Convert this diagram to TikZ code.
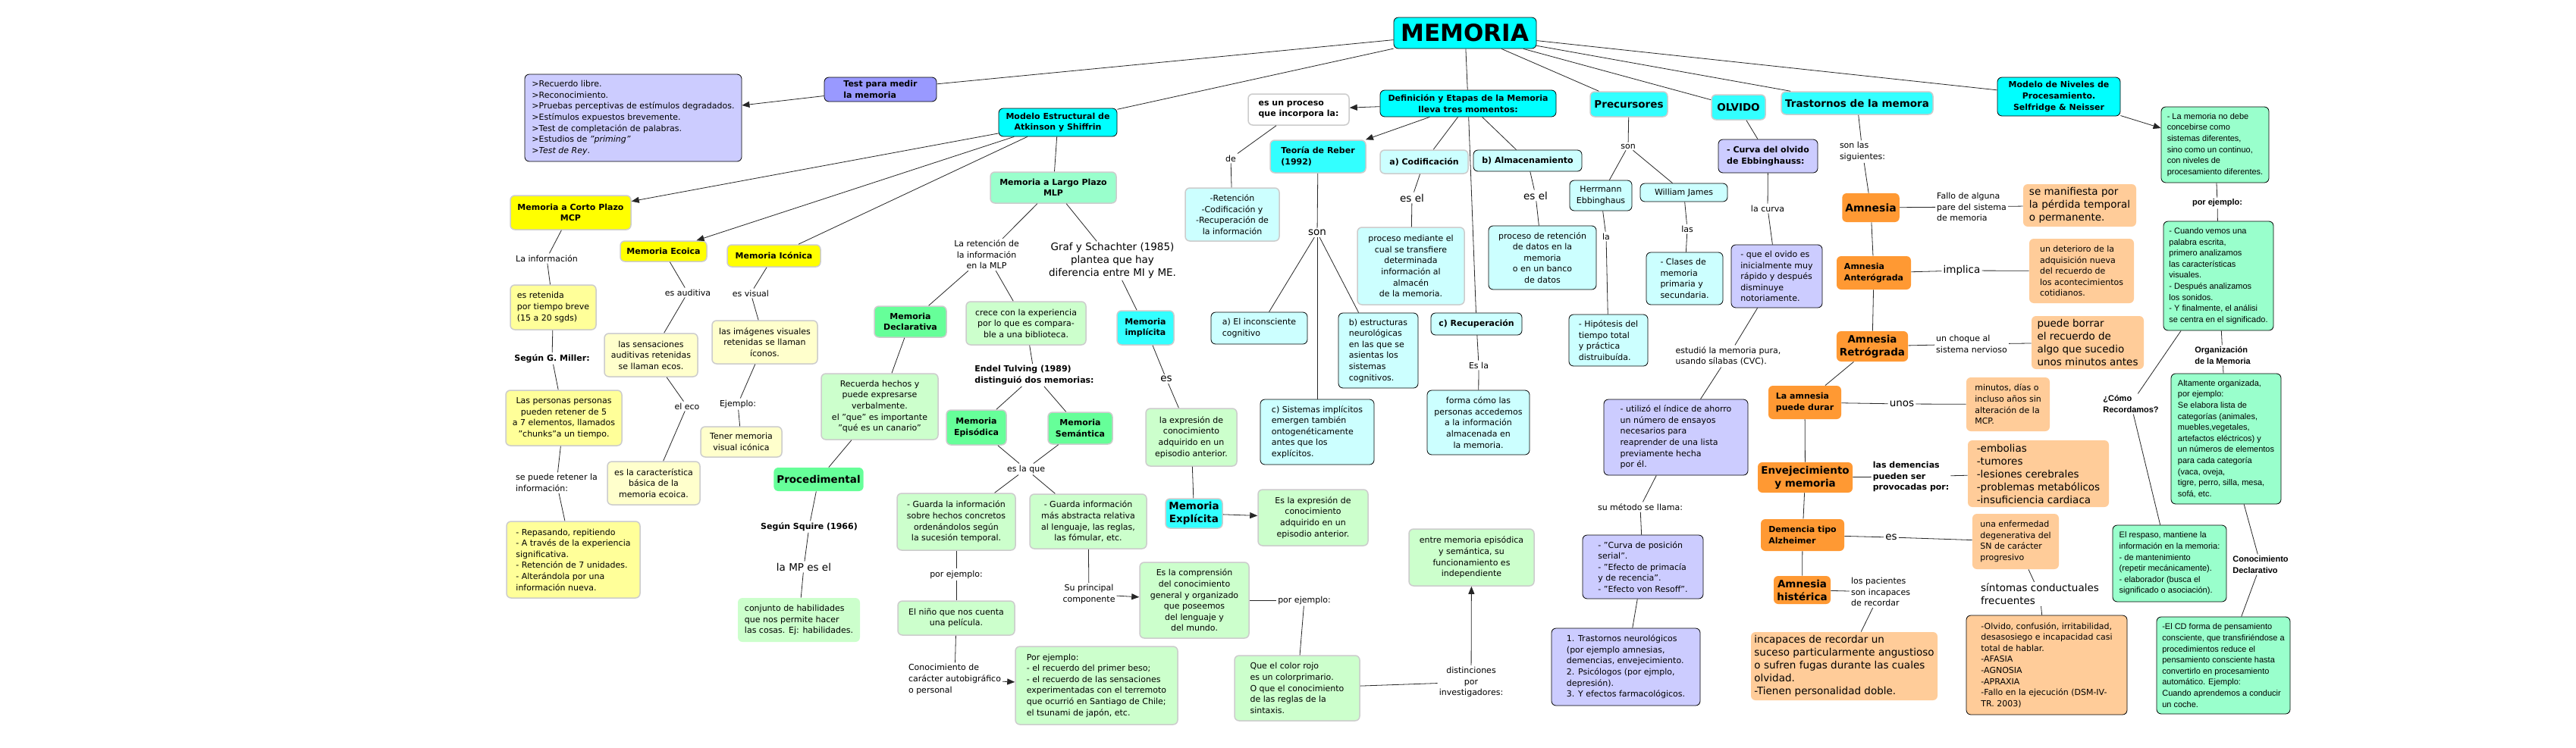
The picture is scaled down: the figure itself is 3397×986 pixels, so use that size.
\documentclass[tikz,border=0pt]{standalone}
\usepackage{fontspec}
\setmainfont{DejaVu Sans}
\newfontfamily\tahoma{Liberation Sans}
\usepackage{tikz}
\usetikzlibrary{arrows.meta}

\definecolor{cyanhead}{HTML}{00FFFF}
\definecolor{cyansoft}{HTML}{33FFFF}
\definecolor{cyanpale}{HTML}{CCFFFF}
\definecolor{lavhead}{HTML}{9999FF}
\definecolor{lavpale}{HTML}{CCCCFF}
\definecolor{yelhead}{HTML}{FFFF00}
\definecolor{yelmid}{HTML}{FFFF99}
\definecolor{yelpale}{HTML}{FFFFCC}
\definecolor{grnhead}{HTML}{66FF99}
\definecolor{grnmint}{HTML}{99FFCC}
\definecolor{grnpale}{HTML}{CCFFCC}
\definecolor{orhead}{HTML}{FF9933}
\definecolor{orpale}{HTML}{FFCC99}

\begin{document}
\begin{tikzpicture}[x=1pt, y=-1pt,
  every node/.style={align=center, font=\fontsize{11}{14.6}\selectfont},
  box/.style={draw=black, rounded corners=6pt, inner sep=4pt, line width=0.8pt},
  soft/.style={box, draw=black!20, line width=1.5pt},
  flat/.style={box, draw=none},
  lbl/.style={inner sep=2pt},
  bfnt/.style={font=\bfseries\fontsize{11}{14.6}\selectfont},
  bigtxt/.style={font=\fontsize{13.5}{17}\selectfont},
  bigbf/.style={font=\bfseries\fontsize{13.5}{17}\selectfont},
  tah/.style={font=\tahoma\fontsize{11}{14.6}\selectfont},
  tahbf/.style={font=\tahoma\bfseries\fontsize{11}{14.6}\selectfont},
  link/.style={draw=black!85, line width=0.8pt},
  arr/.style={link, -{Triangle[length=10pt,width=8pt]}}]

\fill[white] (0,0) rectangle (3397,986);
\useasboundingbox (0,0) rectangle (3397,986);

% root and main branches
\node[box, fill=cyanhead, font=\bfseries\fontsize{31}{36}\selectfont, minimum width=188pt, minimum height=41pt] (memoria) at (1932,43.5) {MEMORIA};
\node[box, fill=lavhead, bfnt, align=left, minimum width=148pt, minimum height=32pt] (test) at (1161,118) {Test para medir\\la memoria};
\node[box, fill=lavpale, align=left, minimum width=286pt, minimum height=115pt] (lista) at (835,155.5) {>Recuerdo libre.\\>Reconocimiento.\\>Pruebas perceptivas de estímulos degradados.\\>Estímulos expuestos brevemente.\\>Test de completación de palabras.\\>Estudios de \textit{"priming"}\\\textit{>Test de Rey}.};
\node[box, fill=cyanhead, bfnt, minimum width=156pt, minimum height=37pt] (modelo) at (1395,161.5) {Modelo Estructural de\\Atkinson y Shiffrin};
\node[box, fill=cyanhead, bfnt, minimum width=232pt, minimum height=35pt] (defin) at (1936,136.5) {Definición y Etapas de la Memoria\\lleva tres momentos:};
\node[soft, fill=cyansoft, bigbf, minimum width=102pt, minimum height=33pt] (precurs) at (2148,137.5) {Precursores};
\node[soft, fill=cyansoft, bigbf, minimum width=71pt, minimum height=33pt] (olvido) at (2292.5,141.5) {OLVIDO};
\node[soft, fill=cyansoft, bigbf, minimum width=200pt, minimum height=30pt] (trast) at (2449,136) {Trastornos de la memora};
\node[box, fill=cyanhead, bfnt, minimum width=162pt, minimum height=51pt] (niveles) at (2715,127.5) {Modelo de Niveles de\\Procesamiento.\\Selfridge \& Neisser};

% short term memory
\node[soft, fill=yelhead, bfnt, minimum width=159pt, minimum height=45pt] (mcp) at (752.5,280.5) {Memoria a Corto Plazo\\MCP};
\node[lbl] (lblinfo) at (721,341) {La información};
\node[soft, fill=yelmid, align=left, minimum width=113pt, minimum height=59pt] (retenida) at (729.5,405.5) {es retenida\\por tiempo breve\\(15 a 20 sgds)};
\node[lbl, bfnt] (lblmiller) at (728,473) {Según G. Miller:};
\node[soft, fill=yelmid, minimum width=153pt, minimum height=73pt] (personas) at (743.5,551.5) {Las personas personas\\pueden retener de 5\\a 7 elementos, llamados\\"chunks"a un tiempo.};
\node[lbl, align=left] (lblretener) at (734,637) {se puede retener la\\información:};
\node[soft, fill=yelmid, align=left, minimum width=176pt, minimum height=101pt] (repasando) at (756,738.5) {- Repasando, repitiendo\\- A través de la experiencia\\significativa.\\- Retención de 7 unidades.\\- Alterándola por una\\información nueva.};

% sensory memory
\node[soft, fill=yelhead, bfnt, minimum width=114pt, minimum height=27pt] (ecoica) at (875,331.5) {Memoria Ecoica};
\node[soft, fill=yelhead, bfnt, minimum width=123pt, minimum height=29pt] (iconica) at (1020.5,337.5) {Memoria Icónica};
\node[lbl] (lblaud) at (907,386) {es auditiva};
\node[soft, fill=yelpale, minimum width=123pt, minimum height=57pt] (ecos) at (858.5,468.5) {las sensaciones\\auditivas retenidas\\se llaman ecos.};
\node[lbl] (lbleco) at (906,536) {el eco};
\node[soft, fill=yelpale, minimum width=122pt, minimum height=57pt] (basica) at (862,637.5) {es la característica\\básica de la\\memoria ecoica.};
\node[lbl] (lblvis) at (990,387) {es visual};
\node[soft, fill=yelpale, minimum width=139pt, minimum height=57pt] (iconos) at (1008.5,451.5) {las imágenes visuales\\retenidas se llaman\\íconos.};
\node[lbl] (lblej) at (973,533) {Ejemplo:};
\node[soft, fill=yelpale, minimum width=107pt, minimum height=40pt] (tener) at (977.5,583) {Tener memoria\\visual icónica};

% long term memory
\node[soft, fill=grnmint, bfnt, minimum width=166pt, minimum height=41pt] (mlp) at (1389,247.5) {Memoria a Largo Plazo\\MLP};
\node[lbl] (lblret) at (1301,336) {La retención de\\la información\\en la MLP};
\node[lbl, bigtxt] (lblgraf) at (1467,344) {Graf y Schachter (1985)\\plantea que hay\\diferencia entre MI y ME.};
\node[soft, fill=grnhead, bfnt, minimum width=95pt, minimum height=41pt] (decl) at (1200.5,424.5) {Memoria\\Declarativa};
\node[soft, fill=grnpale, minimum width=154pt, minimum height=87pt] (recuerda) at (1160,536.5) {Recuerda hechos y\\puede expresarse\\verbalmente.\\el "que" es importante\\"qué es un canario"};
\node[flat, fill=grnhead, bigbf, minimum width=115pt, minimum height=31pt] (proced) at (1079.5,632.5) {Procedimental};
\node[lbl, bfnt] (lblsquire) at (1067,695) {Según Squire (1966)};
\node[lbl, bigtxt] (lblmp) at (1060,748) {la MP es el};
\node[flat, fill=grnpale, align=left, minimum width=161pt, minimum height=58pt] (conjunto) at (1053.5,818) {conjunto de habilidades\\que nos permite hacer\\las cosas. Ej: habilidades.};
\node[soft, fill=grnpale, minimum width=158pt, minimum height=57pt] (crece) at (1353,426.5) {crece con la experiencia\\por lo que es compara-\\ble a una biblioteca.};
\node[lbl, bfnt, align=left] (lbltulving) at (1364,495) {Endel Tulving (1989)\\distinguió dos memorias:};
\node[soft, fill=grnhead, bfnt, minimum width=79pt, minimum height=46pt] (episodica) at (1287.5,564) {Memoria\\Episódica};
\node[soft, fill=grnhead, bfnt, minimum width=85pt, minimum height=42pt] (semantica) at (1424.5,565) {Memoria\\Semántica};
\node[lbl] (lblesla) at (1353,619) {es la que};
\node[soft, fill=grnpale, minimum width=156pt, minimum height=75pt] (guarda1) at (1261,688.5) {- Guarda la información\\sobre hechos concretos\\ordenándolos según\\la sucesión temporal.};
\node[soft, fill=grnpale, minimum width=154pt, minimum height=72pt] (guarda2) at (1435,688) {- Guarda información\\más abstracta relativa\\al lenguaje, las reglas,\\las fómular, etc.};
\node[lbl] (lblpej1) at (1261,758) {por ejemplo:};
\node[soft, fill=grnpale, minimum width=154pt, minimum height=45pt] (nino) at (1261,815.5) {El niño que nos cuenta\\una película.};
\node[lbl, align=left] (lblconoc) at (1259,896.5) {Conocimiento de\\carácter autobigráfico\\o personal};
\node[soft, fill=grnpale, align=left, minimum width=214pt, minimum height=103pt] (beso) at (1446,904.5) {Por ejemplo:\\- el recuerdo del primer beso;\\- el recuerdo de las sensaciones\\experimentadas con el terremoto\\que ocurrió en Santiago de Chile;\\el tsunami de japón, etc.};
\node[lbl] (lblsu) at (1436,784) {Su principal\\componente};
\node[soft, fill=grnpale, minimum width=144pt, minimum height=100pt] (compren) at (1575,792) {Es la comprensión\\del conocimiento\\general y organizado\\que poseemos\\del lenguaje y\\del mundo.};
\node[lbl] (lblpej2) at (1720,792) {por ejemplo:};
\node[soft, fill=grnpale, align=left, minimum width=165pt, minimum height=86pt] (rojo) at (1710.5,908) {Que el color rojo\\es un colorprimario.\\O que el conocimiento\\de las reglas de la\\sintaxis.};
\node[soft, fill=cyansoft, bfnt, minimum width=75pt, minimum height=45pt] (implicita) at (1510.5,432.5) {Memoria\\implícita};
\node[lbl, bigtxt] (lbles1) at (1538,500) {es};
\node[soft, fill=grnpale, minimum width=120pt, minimum height=76pt] (expres1) at (1571,577) {la expresión de\\conocimiento\\adquirido en un\\episodio anterior.};
\node[soft, fill=cyansoft, bigbf, minimum width=75pt, minimum height=39pt] (explicita) at (1574.5,677.5) {Memoria\\Explícita};
\node[soft, fill=grnpale, minimum width=145pt, minimum height=74pt] (expres2) at (1731.5,683) {Es la expresión de\\conocimiento\\adquirido en un\\episodio anterior.};
\node[soft, fill=grnpale, minimum width=165pt, minimum height=75pt] (entre) at (1940.5,735.5) {entre memoria episódica\\y semántica, su\\funcionamiento es\\independiente};
\node[lbl] (lbldist) at (1940,900) {distinciones\\por\\investigadores:};

% definition and stages
\node[soft, fill=white, bfnt, align=left, minimum width=133pt, minimum height=41pt] (proceso) at (1712.5,144.5) {es un proceso\\que incorpora la:};
\node[lbl] (lblde) at (1623,209) {de};
\node[soft, fill=cyanpale, minimum width=124pt, minimum height=70pt] (retencion) at (1625,283) {-Retención\\-Codificación y\\-Recuperación de\\la información};
\node[soft, fill=cyansoft, bfnt, align=left, minimum width=126pt, minimum height=43pt] (reber) at (1738,206.5) {Teoría de Reber\\(1992)};
\node[lbl, bigtxt] (lblson1) at (1737,307) {son};
\node[box, fill=cyanpale, align=left, minimum width=127pt, minimum height=42pt] (inconsc) at (1660.5,433) {a) El inconsciente\\cognitivo};
\node[box, fill=cyanpale, align=left, minimum width=105pt, minimum height=99pt] (estruct) at (1817.5,462.5) {b) estructuras\\neurológicas\\en las que se\\asientas los\\sistemas\\cognitivos.};
\node[box, fill=cyanpale, align=left, minimum width=150pt, minimum height=86pt] (sistemas) at (1737,570) {c) Sistemas implícitos\\emergen también\\ontogenéticamente\\antes que los\\explícitos.};
\node[soft, fill=cyanpale, bfnt, minimum width=116pt, minimum height=31pt] (codif) at (1878,213.5) {a) Codificación};
\node[lbl, bigtxt] (lblesel1) at (1862,261) {es el};
\node[soft, fill=cyanpale, minimum width=141pt, minimum height=102pt] (mediante) at (1860.5,351) {proceso mediante el\\cual se transfiere\\determinada\\información al\\almacén\\de la memoria.};
\node[box, fill=cyanpale, bfnt, minimum width=143pt, minimum height=28pt] (almac) at (2014.5,212) {b) Almacenamiento};
\node[lbl, bigtxt] (lblesel2) at (2025,258) {es el};
\node[box, fill=cyanpale, minimum width=142pt, minimum height=84pt] (retdatos) at (2034,340) {proceso de retención\\de datos en la\\memoria\\o en un banco\\de datos};
\node[box, fill=cyanpale, bfnt, minimum width=120pt, minimum height=29pt] (recup) at (1947,427.5) {c) Recuperación};
\node[lbl] (lblesla2) at (1950,482) {Es la};
\node[box, fill=cyanpale, minimum width=135pt, minimum height=85pt] (forma) at (1949.5,557.5) {forma cómo las\\personas accedemos\\a la información\\almacenada en\\la memoria.};

% precursors and forgetting
\node[lbl] (lblson2) at (2147,193) {son};
\node[box, fill=cyanpale, minimum width=82pt, minimum height=40pt] (herr) at (2111,258) {Herrmann\\Ebbinghaus};
\node[box, fill=cyanpale, minimum width=115pt, minimum height=24pt] (william) at (2220.5,254) {William James};
\node[lbl] (lblla) at (2118,312) {la};
\node[box, fill=cyanpale, align=left, minimum width=104pt, minimum height=68pt] (hipot) at (2121,449) {- Hipótesis del\\tiempo total\\y práctica\\distruibuída.};
\node[lbl] (lbllas) at (2225,302) {las};
\node[box, fill=cyanpale, align=left, minimum width=101pt, minimum height=69pt] (clases) at (2221.5,367.5) {- Clases de\\memoria\\primaria y\\secundaria.};
\node[box, fill=lavpale, bfnt, align=left, minimum width=131pt, minimum height=44pt] (curvaolv) at (2331.5,206) {- Curva del olvido\\de Ebbinghauss:};
\node[lbl] (lblcurva) at (2331,275) {la curva};
\node[box, fill=lavpale, align=left, minimum width=120pt, minimum height=83pt] (ovido) at (2343,364.5) {- que el ovido es\\inicialmente muy\\rápido y después\\disminuye\\notoriamente.};
\node[lbl, align=left] (lblestudio) at (2279,470) {estudió la memoria pura,\\usando sílabas (CVC).};
\node[box, fill=lavpale, align=left, minimum width=190pt, minimum height=100pt] (ahorro) at (2210,577) {- utilizó el índice de ahorro\\un número de ensayos\\necesarios para\\reaprender de una lista\\previamente hecha\\por él.};
\node[lbl] (lblmetodo) at (2163,669) {su método se llama:};
\node[box, fill=lavpale, align=left, minimum width=159pt, minimum height=84pt] (posicion) at (2166.5,748) {- "Curva de posición\\serial".\\- "Efecto de primacía\\y de recencia".\\- "Efecto von Resoff".};
\node[box, fill=lavpale, align=left, minimum width=196pt, minimum height=102pt] (trastneur) at (2144,880) {1. Trastornos neurológicos\\(por ejemplo amnesias,\\demencias, envejecimiento.\\2. Psicólogos (por ejmplo,\\depresión).\\3. Y efectos farmacológicos.};

% memory disorders
\node[lbl, align=left] (lblsonlas) at (2456,200) {son las\\siguientes:};
\node[flat, fill=orhead, font=\bfseries\fontsize{14}{17}\selectfont, minimum width=74pt, minimum height=38pt] (amnesia) at (2467,274) {Amnesia};
\node[lbl, align=left] (lblfallo) at (2600,273) {Fallo de alguna\\pare del sistema\\de memoria};
\node[flat, fill=orpale, bigtxt, align=left, minimum width=149pt, minimum height=56pt] (manif) at (2742.5,271) {se manifiesta por\\la pérdida temporal\\o permanente.};
\node[flat, fill=orhead, bfnt, align=left, minimum width=98pt, minimum height=44pt] (antero) at (2471,360) {Amnesia\\Anterógrada};
\node[lbl, bigtxt] (lblimplica) at (2587,357) {implica};
\node[flat, fill=orpale, align=left, minimum width=138pt, minimum height=85pt] (deterioro) at (2745,357.5) {un deterioro de la\\adquisición nueva\\del recuerdo de\\los acontecimientos\\cotidianos.};
\node[flat, fill=orhead, bigbf, minimum width=94pt, minimum height=40pt] (retro) at (2469,457) {Amnesia\\Retrógrada};
\node[lbl, align=left] (lblchoque) at (2600,454) {un choque al\\sistema nervioso};
\node[flat, fill=orpale, bigtxt, align=left, minimum width=148pt, minimum height=70pt] (borrar) at (2753,452) {puede borrar\\el recuerdo de\\algo que sucedio\\unos minutos antes};
\node[flat, fill=orhead, bfnt, align=left, minimum width=96pt, minimum height=44pt] (durar) at (2380,531) {La amnesia\\puede durar};
\node[lbl, bigtxt] (lblunos) at (2508,533) {unos};
\node[flat, fill=orpale, align=left, minimum width=110pt, minimum height=71pt] (minutos) at (2648,533.5) {minutos, días o\\incluso años sin\\alteración de la\\MCP.};
\node[flat, fill=orhead, bigbf, minimum width=125pt, minimum height=40pt] (envej) at (2380.5,630) {Envejecimiento\\y memoria};
\node[lbl, bfnt, align=left] (lbldemen) at (2520,629) {las demencias\\pueden ser\\provocadas por:};
\node[flat, fill=orpale, bigtxt, align=left, minimum width=186pt, minimum height=88pt] (embolias) at (2688,625) {-embolias\\-tumores\\-lesiones cerebrales\\-problemas metabólicos\\-insuficiencia cardiaca};
\node[flat, fill=orhead, bfnt, align=left, minimum width=110pt, minimum height=42pt] (alzh) at (2377,706) {Demencia tipo\\Alzheimer};
\node[lbl, bigtxt] (lbles2) at (2494,709) {es};
\node[flat, fill=orpale, align=left, minimum width=114pt, minimum height=73pt] (enferm) at (2658,714.5) {una enfermedad\\degenerativa del\\SN de carácter\\progresivo};
\node[lbl, bigtxt, align=left] (lblsint) at (2690,784) {síntomas conductuales\\frecuentes};
\node[box, fill=orpale, align=left, minimum width=212pt, minimum height=131pt] (confus) at (2699,877.5) {-Olvido, confusión, irritabilidad,\\desasosiego e incapacidad casi\\total de hablar.\\-AFASIA\\-AGNOSIA\\-APRAXIA\\-Fallo en la ejecución (DSM-IV-\\TR. 2003)};
\node[flat, fill=orhead, bigbf, minimum width=75pt, minimum height=37pt] (hister) at (2376.5,778.5) {Amnesia\\histérica};
\node[lbl, align=left] (lblpac) at (2480,781) {los pacientes\\son incapaces\\de recordar};
\node[flat, fill=orpale, bigtxt, align=left, minimum width=246pt, minimum height=90pt] (incap) at (2432,879) {incapaces de recordar un\\suceso particularmente angustioso\\o sufren fugas durante las cuales\\olvidad.\\-Tienen personalidad doble.};

% levels of processing
\node[box, fill=grnmint, tah, align=left, minimum width=142pt, minimum height=100pt] (nodebe) at (2921,191) {- La memoria no debe\\concebirse como\\sistemas diferentes,\\sino como un continuo,\\con niveles de\\procesamiento diferentes.};
\node[lbl, tahbf] (lblpej3) at (2924,268) {por ejemplo:};
\node[box, fill=grnmint, tah, align=left, minimum width=145pt, minimum height=144pt] (cuando) at (2925.5,364) {- Cuando vemos una\\palabra escrita,\\primero analizamos\\las características\\visuales.\\- Después analizamos\\los sonidos.\\- Y finalmente, el análisi\\se centra en el significado.};
\node[lbl, tahbf, align=left] (lblorg) at (2931,469) {Organización\\de la Memoria};
\node[box, fill=grnmint, tah, align=left, minimum width=145pt, minimum height=172pt] (altamente) at (2935.5,579) {Altamente organizada,\\por ejemplo:\\Se elabora lista de\\categorías (animales,\\muebles,vegetales,\\artefactos eléctricos) y\\un números de elementos\\para cada categoría\\(vaca, oveja,\\tigre, perro, silla, mesa,\\sofá, etc.};
\node[lbl, tahbf, align=left] (lblcomo) at (2810,533) {¿Cómo\\Recordamos?};
\node[box, fill=grnmint, tah, align=left, minimum width=150pt, minimum height=101pt] (respaso) at (2861,743.5) {El respaso, mantiene la\\información en la memoria:\\- de mantenimiento\\(repetir mecánicamente).\\- elaborador (busca el\\significado o asociación).};
\node[lbl, tahbf, align=left] (lblcd) at (2981,745) {Conocimiento\\Declarativo};
\node[box, fill=grnmint, tah, align=left, minimum width=176pt, minimum height=128pt] (elcd) at (2932,878) {-El CD forma de pensamiento\\consciente, que transfiriéndose a\\procedimientos reduce el\\pensamiento consciente hasta\\convertirlo en procesamiento\\automático. Ejemplo:\\Cuando aprendemos a conducir\\un coche.};

% arrows
\foreach \a/\b in {test/lista, modelo/mcp, modelo/ecoica, defin/proceso, defin/reber,
  lblconoc/beso, lblsu/compren, explicita/expres2, lbldist/entre, niveles/nodebe}
  \draw[arr] (\a) -- (\b);

% plain links
\foreach \a/\b in {memoria/test, memoria/modelo, memoria/defin, memoria/precurs,
  memoria/olvido, memoria/trast, memoria/niveles, modelo/iconica, modelo/mlp}
  \draw[link] (\a) -- (\b);
\foreach \a/\b in {mcp/lblinfo, lblinfo/retenida, retenida/lblmiller, lblmiller/personas,
  personas/lblretener, lblretener/repasando, ecoica/lblaud, lblaud/ecos, ecos/lbleco,
  lbleco/basica, iconica/lblvis, lblvis/iconos, iconos/lblej, lblej/tener}
  \draw[link] (\a) -- (\b);
\foreach \a/\b in {mlp/lblret, mlp/lblgraf, lblret/decl, lblret/crece, decl/recuerda,
  recuerda/proced, proced/lblsquire, lblsquire/lblmp, lblmp/conjunto, crece/lbltulving,
  lbltulving/episodica, lbltulving/semantica, episodica/lblesla, semantica/lblesla,
  lblesla/guarda1, lblesla/guarda2, guarda1/lblpej1, lblpej1/nino, nino/lblconoc,
  guarda2/lblsu, compren/lblpej2, lblpej2/rojo, rojo/lbldist, lblgraf/implicita,
  implicita/lbles1, lbles1/expres1, expres1/explicita}
  \draw[link] (\a) -- (\b);
\foreach \a/\b in {proceso/lblde, lblde/retencion, reber/lblson1, lblson1/inconsc,
  lblson1/estruct, lblson1/sistemas, defin/codif, defin/almac, defin/recup,
  codif/lblesel1, lblesel1/mediante, almac/lblesel2, lblesel2/retdatos,
  recup/lblesla2, lblesla2/forma}
  \draw[link] (\a) -- (\b);
\foreach \a/\b in {precurs/lblson2, lblson2/herr, lblson2/william, herr/lblla, lblla/hipot,
  william/lbllas, lbllas/clases, olvido/curvaolv, curvaolv/lblcurva, lblcurva/ovido,
  ovido/lblestudio, lblestudio/ahorro, ahorro/lblmetodo, lblmetodo/posicion,
  posicion/trastneur}
  \draw[link] (\a) -- (\b);
\foreach \a/\b in {trast/lblsonlas, lblsonlas/amnesia, amnesia/lblfallo, lblfallo/manif,
  amnesia/antero, antero/lblimplica, lblimplica/deterioro, antero/retro, retro/lblchoque,
  lblchoque/borrar, retro/durar, durar/lblunos, lblunos/minutos, durar/envej,
  envej/lbldemen, lbldemen/embolias, envej/alzh, alzh/lbles2, lbles2/enferm,
  enferm/lblsint, lblsint/confus, alzh/hister, hister/lblpac, lblpac/incap}
  \draw[link] (\a) -- (\b);
\foreach \a/\b in {nodebe/lblpej3, lblpej3/cuando, cuando/lblorg, lblorg/altamente,
  cuando/lblcomo, lblcomo/respaso, altamente/lblcd, lblcd/elcd}
  \draw[link] (\a) -- (\b);
\end{tikzpicture}
\end{document}
